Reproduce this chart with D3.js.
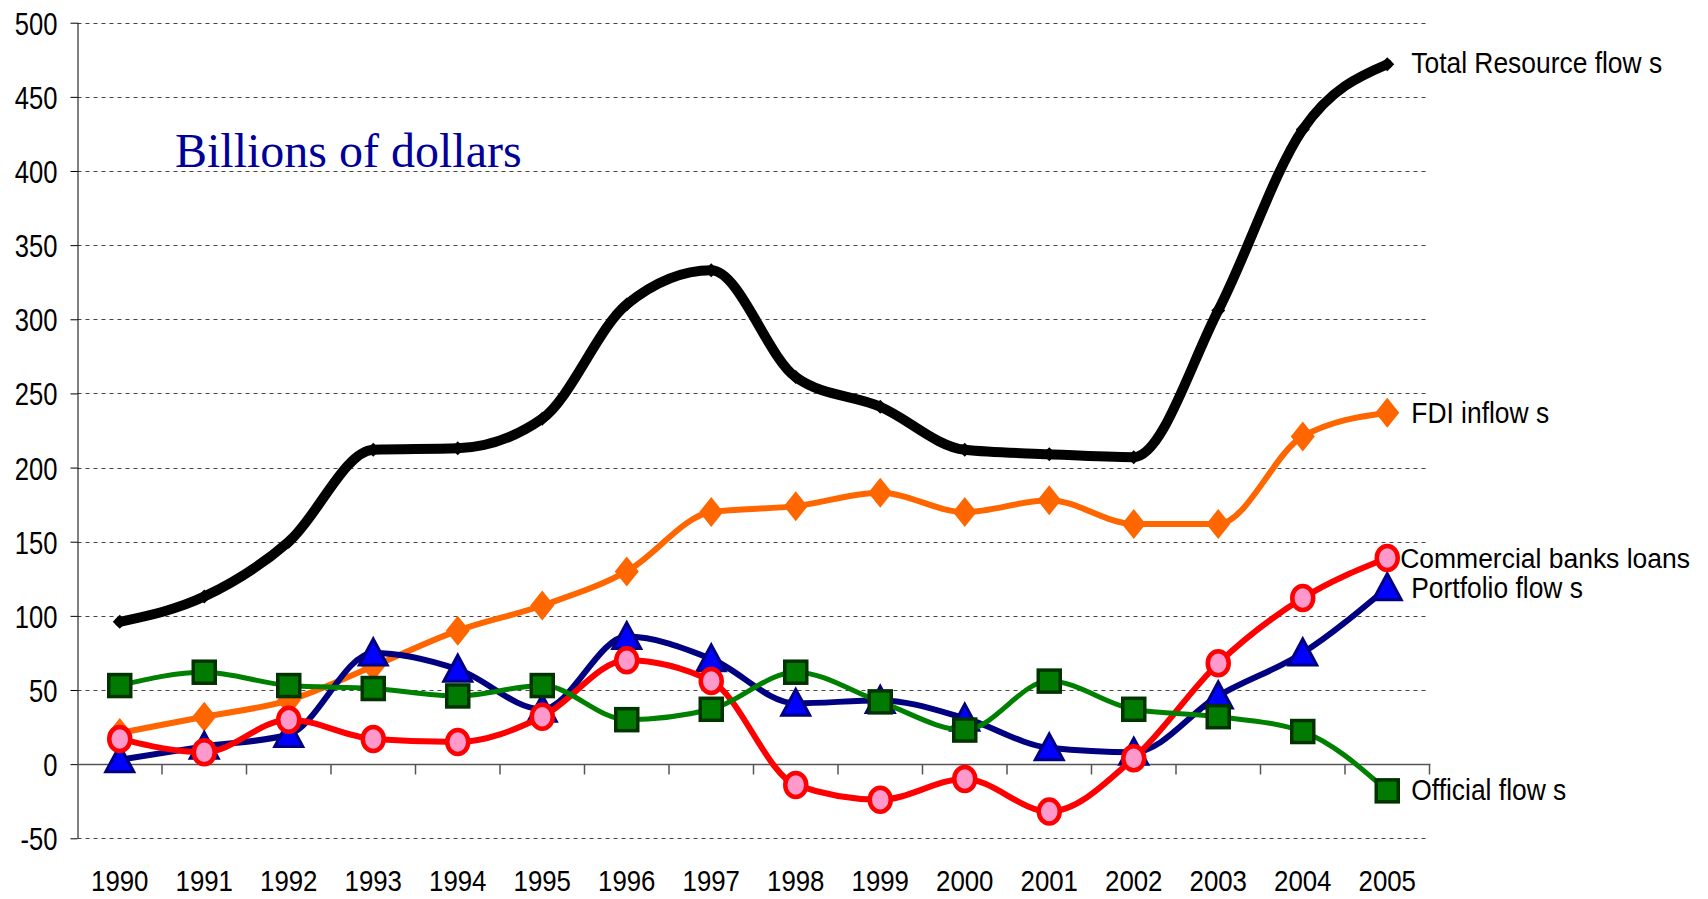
<!DOCTYPE html>
<html>
<head>
<meta charset="utf-8">
<script src="https://cdn.jsdelivr.net/npm/d3@7"></script>
<style>
  html, body { margin: 0; padding: 0; background: #fff; }
  svg { display: block; }
</style>
</head>
<body>
<svg id="chart" width="1708" height="899"></svg>
<script>
// ---- Data ----
const years = ["1990","1991","1992","1993","1994","1995","1996","1997","1998","1999","2000","2001","2002","2003","2004","2005"];
const totalResourceFlows   = [96, 113, 150, 212, 213, 233, 310, 333, 261, 241, 212, 209, 207, 306, 428, 472];
const fdiInflows           = [21, 32, 43, 66, 90, 107, 130, 170, 174, 183, 170, 178, 162, 162, 221, 237];
const commercialBanksLoans = [17, 8, 30, 17, 15, 32, 70, 56, -14, -24, -10, -32, 4, 68, 112, 139];
const portfolioFlows       = [3, 12, 20, 75, 64, 37, 86, 71, 41, 43, 31, 11, 8, 46, 75, 119];
const officialFlows        = [53, 62, 53, 51, 46, 53, 30, 37, 62, 42, 23, 56, 37, 32, 22, -18];
const yTicks = [-50, 0, 50, 100, 150, 200, 250, 300, 350, 400, 450, 500];
const seriesNames = ["Total Resource flow s", "FDI inflow s", "Portfolio flow s", "Commercial banks loans", "Official flow s"];

(function () {
const SANS = '"Liberation Sans", Arial, sans-serif';
const SERIF = '"Liberation Serif", "Times New Roman", serif';
const svg = d3.select("#chart");
const pLeft = 77.5, pRight = 1429.5, pTop = 22.7, pBottom = 838.3;
const x = d3.scaleBand().domain(years).range([pLeft, pRight]);
const cx = d => x(d) + x.bandwidth() / 2;
const y = d3.scaleLinear().domain([-50, 500]).range([pBottom, pTop]);

function squeeze(factor) {
  return sel => sel.each(function() {
    const len = this.getComputedTextLength();
    d3.select(this).attr("textLength", len * factor).attr("lengthAdjust", "spacingAndGlyphs");
  });
}

svg.append("rect").attr("width", 1708).attr("height", 899).attr("fill", "#fff");

// gridlines
svg.append("g").selectAll("line").data(yTicks.filter(t => t !== 0)).join("line")
  .attr("x1", pLeft).attr("x2", pRight)
  .attr("y1", d => Math.round(y(d)) + 0.5).attr("y2", d => Math.round(y(d)) + 0.5)
  .attr("stroke", "#444").attr("stroke-width", 1).attr("stroke-dasharray", "4,4");

// y axis
const yAxis = svg.append("g").attr("transform", `translate(${pLeft},0)`)
  .call(d3.axisLeft(y).tickValues(yTicks).tickSize(7).tickFormat(d => String(d)));
yAxis.select(".domain").attr("stroke", "#000").attr("d", `M0.5,${pTop}V${pBottom}`);
yAxis.selectAll(".tick line").attr("stroke", "#000");
yAxis.selectAll(".tick text")
  .attr("x", -20).attr("dy", "0.36em")
  .style("font-family", SANS).style("font-size", "32px").attr("fill", "#000")
  .call(squeeze(0.8));

// x axis line at zero
const y0 = Math.round(y(0)) + 0.5;
svg.append("line").attr("x1", pLeft).attr("x2", pRight + 1).attr("y1", y0).attr("y2", y0)
  .attr("stroke", "#555").attr("stroke-width", 1.5);
svg.append("g").selectAll("line").data(years).join("line")
  .attr("x1", d => x(d) + x.bandwidth()).attr("x2", d => x(d) + x.bandwidth())
  .attr("y1", y0).attr("y2", y0 + 10)
  .attr("stroke", "#555").attr("stroke-width", 1.5);

// year labels
svg.append("g").selectAll("text").data(years).join("text")
  .attr("x", d => cx(d)).attr("y", 891)
  .attr("text-anchor", "middle")
  .style("font-family", SANS).style("font-size", "30px").attr("fill", "#000")
  .text(d => d).call(squeeze(0.86));

// annotation
svg.append("text").attr("x", 175).attr("y", 166.5)
  .style("font-family", SERIF).style("font-size", "48px").attr("fill", "#000099")
  .text("Billions of dollars");

// ---- Series ----
const line = d3.line().x((d, i) => cx(years[i])).y(d => y(d)).curve(d3.curveMonotoneX);

const series = [
  { name: seriesNames[0], values: totalResourceFlows, color: "#000000", width: 10, marker: "blackdiamond", lx: 24, ly: 9, fs: 30, sq: 0.88 },
  { name: seriesNames[1], values: fdiInflows, color: "#FF6600", width: 6, marker: "diamond", lx: 24, ly: 10, fs: 30, sq: 0.88 },
  { name: seriesNames[2], values: portfolioFlows, color: "#000080", width: 6, marker: "triangle", lx: 24, ly: 10, fs: 30, sq: 0.88 },
  { name: seriesNames[3], values: commercialBanksLoans, color: "#FF0000", width: 6, marker: "circle", lx: 13, ly: 10, fs: 27, sq: 0.98 },
  { name: seriesNames[4], values: officialFlows, color: "#008000", width: 5, marker: "square", lx: 24, ly: 9, fs: 30, sq: 0.88 }
];

series.forEach(s => {
  const g = svg.append("g");
  g.append("path").datum(s.values).attr("d", line)
    .attr("fill", "none").attr("stroke", s.color).attr("stroke-width", s.width)
    .attr("stroke-linejoin", "round").attr("stroke-linecap", "round");
  const m = g.selectAll("g.m").data(s.values).join("g")
    .attr("transform", (d, i) => `translate(${cx(years[i])},${y(d)})`);
  if (s.marker === "blackdiamond") {
    m.append("path").attr("d", "M0,-7L7,0L0,7L-7,0Z").attr("fill", "#000");
  } else if (s.marker === "diamond") {
    m.append("path").attr("d", "M0,-15L12,0L0,15L-12,0Z").attr("fill", "#FF6600");
  } else if (s.marker === "triangle") {
    m.append("path").attr("d", "M0,-14L14,12L-14,12Z")
      .attr("fill", "#0000FF").attr("stroke", "#000080").attr("stroke-width", 3).attr("stroke-linejoin", "miter");
  } else if (s.marker === "circle") {
    m.append("ellipse").attr("rx", 10.5).attr("ry", 12)
      .attr("fill", "#FF99CC").attr("stroke", "#FF0000").attr("stroke-width", 4.5);
  } else if (s.marker === "square") {
    m.append("rect").attr("x", -11).attr("y", -11).attr("width", 22).attr("height", 22)
      .attr("fill", "#007A00").attr("stroke", "#003300").attr("stroke-width", 3.5);
  }
  const last = s.values[s.values.length - 1];
  g.append("text")
    .attr("x", cx(years[years.length - 1]) + s.lx)
    .attr("y", y(last) + s.ly)
    .style("font-family", SANS).style("font-size", s.fs + "px").attr("fill", "#000")
    .text(s.name).call(squeeze(s.sq));
});
})();
</script>
</body>
</html>
